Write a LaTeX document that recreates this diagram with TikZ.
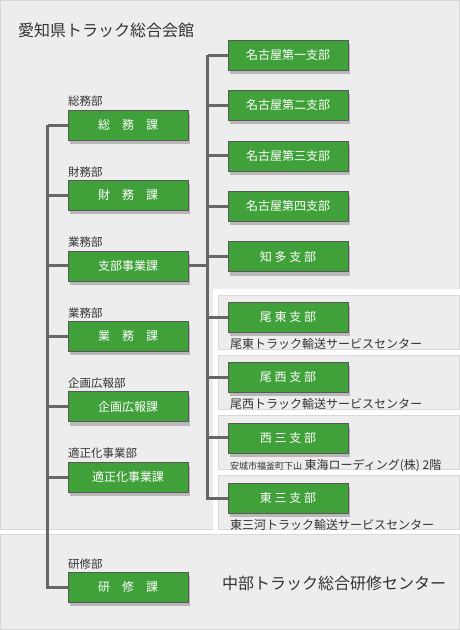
\documentclass[tikz,border=0pt]{standalone}
\usepackage{fontspec}
\setmainfont{Noto Sans CJK JP}
\usepackage{xcolor}
\usepackage{tikz}
\usetikzlibrary{positioning,shadows}
\definecolor{kagreen}{HTML}{40A03A}
\definecolor{lngray}{HTML}{666666}
\definecolor{txgray}{HTML}{333333}
\definecolor{pnfill}{HTML}{EDEDED}
\definecolor{pnline}{HTML}{D8D8D8}

\begin{document}
\begin{tikzpicture}[
  x=1pt,y=-1pt,
  node distance=40pt,
  b/.style={draw=black!65,fill=kagreen,text=white,minimum width=120pt,minimum height=30pt,inner sep=0pt,font=\fontsize{12}{12}\selectfont,
    drop shadow={fill=black,opacity=.22,shadow xshift=2pt,shadow yshift=-4pt}},
  dept/.style={anchor=base west,inner sep=0pt,text=txgray,font=\fontsize{11.5}{12}\selectfont},
  sub/.style={anchor=base west,inner sep=0pt,text=txgray,font=\fontsize{12}{12}\selectfont},
  pn/.style={fill=pnfill,draw=pnline,line width=.8pt},
  a/.style={draw=lngray,line width=3pt}
]
\useasboundingbox (0,0) rectangle (460,630);
% panels
\draw[pn] (.5,.5) rectangle (459.5,529.5);
\draw[pn] (.5,534.5) rectangle (459.5,629.5);
\fill[white] (213,289) rectangle (460,530);
\foreach \t/\u in {295/349,355/409,415/469,475/529}
  \draw[pn] (218.5,\t+.5) rectangle (459.5,\u+.5);
\node[sub,font=\fontsize{16}{16}\selectfont] (kaikan) at (18,36) {愛知県トラック総合会館};
\node[sub,font=\fontsize{16}{16}\selectfont] (kenshuc) at (222,589) {中部トラック総合研修センター};

% left column
\node[b] (somu) at (128,125) {総　務　課};
\node[b,below=of somu] (zaimu) {財　務　課};
\node[b,below=of zaimu] (shibu) {支部事業課};
\node[b,below=of shibu] (gyomu) {業　務　課};
\node[b,below=of gyomu] (kikaku) {企画広報課};
\node[b,below=of kikaku] (tekisei) {適正化事業課};
\node[b,below=80pt of tekisei] (kenshu) {研　修　課};
\node[dept] at ([yshift=4pt]somu.north west) {総務部};
\node[dept] at ([yshift=4pt]zaimu.north west) {財務部};
\node[dept] at ([yshift=4pt]shibu.north west) {業務部};
\node[dept] at ([yshift=4pt]gyomu.north west) {業務部};
\node[dept] at ([yshift=4pt]kikaku.north west) {企画広報部};
\node[dept] at ([yshift=4pt]tekisei.north west) {適正化事業部};
\node[dept] at ([yshift=4pt]kenshu.north west) {研修部};

% right column
\node[b] (nagoya1) at (288,55) {名古屋第一支部};
\node[b,below=20pt of nagoya1] (nagoya2) {名古屋第二支部};
\node[b,below=20pt of nagoya2] (nagoya3) {名古屋第三支部};
\node[b,below=20pt of nagoya3] (nagoya4) {名古屋第四支部};
\node[b,below=20pt of nagoya4] (chita) {知 多 支 部};
\node[b,below=30pt of chita] (bito) {尾 東 支 部};
\node[b,below=30pt of bito] (bisai) {尾 西 支 部};
\node[b,below=30pt of bisai] (seisan) {西 三 支 部};
\node[b,below=30pt of seisan] (tosan) {東 三 支 部};
\node[sub] at ([xshift=2pt,yshift=-16pt]bito.south west) {尾東トラック輸送サービスセンター};
\node[sub] at ([xshift=2pt,yshift=-16pt]bisai.south west) {尾西トラック輸送サービスセンター};
\node[sub] at ([xshift=2pt,yshift=-16pt]seisan.south west) {{\fontsize{9}{9}\selectfont 安城市福釜町下山} 東海ローディング(株) 2階};
\node[sub] at ([xshift=2pt,yshift=-16pt]tosan.south west) {東三河トラック輸送サービスセンター};

% connectors
\draw[a] (somu.west) -- ++(-20,0) coordinate (lt);
\draw[a] (lt) |- (kenshu.west);
\foreach \n in {zaimu,shibu,gyomu,kikaku,tekisei}
  \draw[a] (\n.west) -- (\n.west -| lt);
\draw[a] (nagoya1.west) -- ++(-20,0) coordinate (rt);
\draw[a] (rt) |- (tosan.west);
\foreach \n in {nagoya2,nagoya3,nagoya4,chita,bito,bisai,seisan}
  \draw[a] (\n.west) -- (\n.west -| rt);
\draw[a] (shibu.east) -- (shibu.east -| rt);
\end{tikzpicture}
\end{document}
